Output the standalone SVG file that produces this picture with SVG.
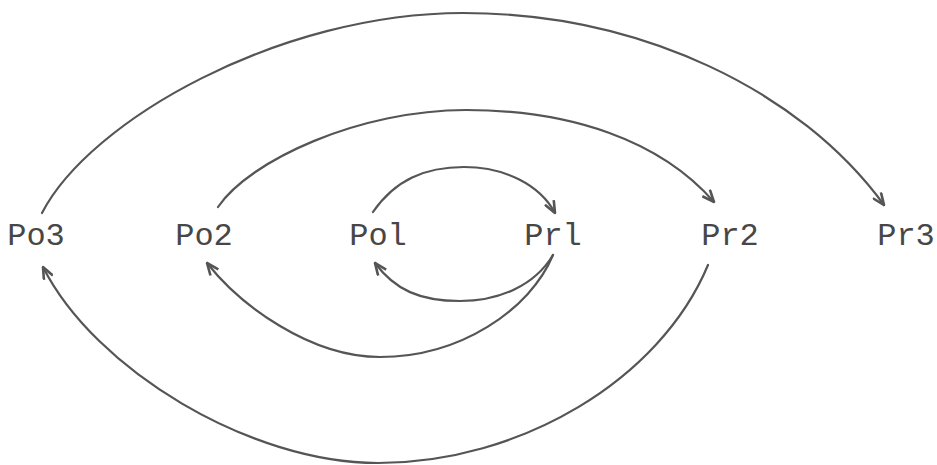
<svg xmlns="http://www.w3.org/2000/svg" width="937" height="465" viewBox="0 0 937 465">
<defs>
<style>
.lbl{font-family:"Liberation Mono","Courier New",monospace;font-size:32px;fill:#474747;text-anchor:middle}
.arc{fill:none;stroke:#555;stroke-width:2.2;stroke-linecap:round}
</style>
<marker id="ah" viewBox="0 0 14 12" refX="13" refY="6" markerWidth="14" markerHeight="12" markerUnits="userSpaceOnUse" orient="auto">
<path d="M1,1 L13,6 L1,11" fill="none" stroke="#555" stroke-width="2.6" stroke-linejoin="miter"/>
</marker>
</defs>
<rect width="937" height="465" fill="#fff"/>
<g id="connectors">
<path class="arc" marker-end="url(#ah)" d="M42,213 C90,120 280,13 463,13 C640,13 800,90 884,205"/>
<path class="arc" marker-end="url(#ah)" d="M218,207 C250,160 360,110 466,110 C570,110 660,140 714,202"/>
<path class="arc" marker-end="url(#ah)" d="M373,212 C395,180 425,167 464,167 C505,167 540,185 555,213"/>
<path class="arc" marker-end="url(#ah)" d="M553,255 C535,285 500,301 460,301 C420,301 395,290 375,263"/>
<path class="arc" marker-end="url(#ah)" d="M553,255 C530,310 460,357 380,357 C310,357 240,305 207,263"/>
<path class="arc" marker-end="url(#ah)" d="M708,265 C660,380 520,463 378,463 C250,463 95,370 43,267"/>
</g>
<g id="Po3"><text class="lbl" x="36" y="245">Po3</text></g>
<g id="Po2"><text class="lbl" x="204" y="245">Po2</text></g>
<g id="Po1"><text class="lbl" x="378" y="245">Pol</text></g>
<g id="Pr1"><text class="lbl" x="553" y="245">Prl</text></g>
<g id="Pr2"><text class="lbl" x="730" y="245">Pr2</text></g>
<g id="Pr3"><text class="lbl" x="906" y="245">Pr3</text></g>
</svg>
